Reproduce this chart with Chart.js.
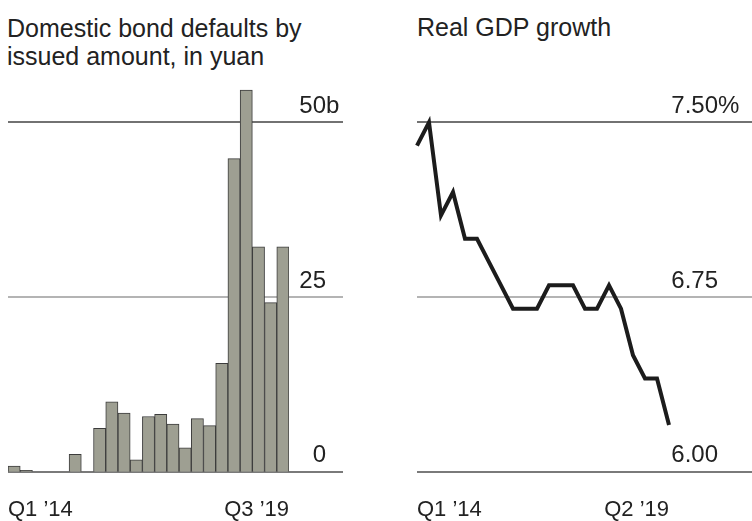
<!DOCTYPE html>
<html>
<head>
<meta charset="utf-8">
<script src="https://cdn.jsdelivr.net/npm/chart.js@4"></script>
<style>
  body { margin: 0; background: #fff; }
  #wrap { position: relative; width: 752px; height: 521px; overflow: hidden; font-family: "Liberation Sans", Arial, sans-serif; color: #222; }
  .title { position: absolute; font-size: 25px; line-height: 27.5px; white-space: nowrap; }
  canvas { position: absolute; top: 0; }
</style>
</head>
<body>
<div id="wrap">
  <div class="title" style="left:7px; top:15px;">Domestic bond defaults by<br>issued amount, in yuan</div>
  <div class="title" style="left:417px; top:14px;">Real GDP growth</div>
  <canvas id="bondChart" width="376" height="521" style="left:0px; width:376px; height:521px;"></canvas>
  <canvas id="gdpChart" width="376" height="521" style="left:376px; width:376px; height:521px;"></canvas>
</div>
<script>
// Bond defaults, quarterly Q1 '14 - Q3 '19 (billion yuan)
const bondQuarters = ["Q1 '14", "Q2 '14", "Q3 '14", "Q4 '14", "Q1 '15", "Q2 '15", "Q3 '15", "Q4 '15",
    "Q1 '16", "Q2 '16", "Q3 '16", "Q4 '16", "Q1 '17", "Q2 '17", "Q3 '17", "Q4 '17",
    "Q1 '18", "Q2 '18", "Q3 '18", "Q4 '18", "Q1 '19", "Q2 '19", "Q3 '19"];
const bondDefaults = [0.8, 0.2, 0, 0, 0, 2.5, 0, 6.2, 10.0, 8.4, 1.7, 7.9, 8.2, 6.8, 3.4, 7.6,
    6.6, 15.5, 44.8, 54.6, 32.2, 24.2, 32.2];
const bondTicks = [0, 25, 50];
const bondTickText = ['0', '25', '50'];
const bondTickSuffix = ['', '', 'b'];
const bondEnds = ['Q1 \u201914', 'Q3 \u201919'];

// Real GDP growth, Q1 '14 - Q2 '19 (%)
const gdpQuarters = ["Q1 '14", "Q2 '14", "Q3 '14", "Q4 '14", "Q1 '15", "Q2 '15", "Q3 '15", "Q4 '15",
    "Q1 '16", "Q2 '16", "Q3 '16", "Q4 '16", "Q1 '17", "Q2 '17", "Q3 '17", "Q4 '17",
    "Q1 '18", "Q2 '18", "Q3 '18", "Q4 '18", "Q1 '19", "Q2 '19"];
const gdpGrowth = [7.4, 7.5, 7.1, 7.2, 7.0, 7.0, 6.9, 6.8, 6.7, 6.7, 6.7, 6.8, 6.8, 6.8, 6.7, 6.7,
    6.8, 6.7, 6.5, 6.4, 6.4, 6.2];
const gdpTicks = [6.0, 6.75, 7.5];
const gdpTickText = ['6.00', '6.75', '7.50'];
const gdpTickSuffix = ['', '', '%'];
const gdpEnds = ['Q1 \u201914', 'Q2 \u201919'];

const lineColors = ['#7a7a7a', '#b4b4b4', '#727272'];

// draws the reference lines, tick labels above them and the end labels of the x axis
const annotate = {
    id: 'annotate',
    beforeDatasetsDraw(chart, args, opts) {
        const ctx = chart.ctx;
        const y = chart.scales.y;
        ctx.save();
        opts.ticks.forEach((v, i) => {
            const py = Math.round(y.getPixelForValue(v));
            ctx.strokeStyle = lineColors[i];
            ctx.lineWidth = 2;
            ctx.beginPath();
            ctx.moveTo(chart.chartArea.left, py);
            ctx.lineTo(opts.lineRight, py);
            ctx.stroke();
        });
        ctx.restore();
    },
    afterDatasetsDraw(chart, args, opts) {
        const ctx = chart.ctx;
        const y = chart.scales.y;
        const area = chart.chartArea;
        ctx.save();
        ctx.fillStyle = '#222';
        ctx.font = '24px "Liberation Sans", Arial, sans-serif';
        ctx.textBaseline = 'alphabetic';
        opts.ticks.forEach((v, i) => {
            const py = y.getPixelForValue(v) - 9.5;
            ctx.textAlign = 'right';
            ctx.fillText(opts.text[i], opts.numRight, py);
            ctx.textAlign = 'left';
            ctx.fillText(opts.suffix[i], opts.numRight, py);
        });
        ctx.font = '22px "Liberation Sans", Arial, sans-serif';
        ctx.textAlign = 'left';
        ctx.fillText(opts.ends[0], area.left, 516);
        ctx.textAlign = 'right';
        ctx.fillText(opts.ends[1], area.right, 516);
        ctx.restore();
    }
};

new Chart(document.getElementById('bondChart'), {
    type: 'bar',
    data: {
        labels: bondQuarters,
        datasets: [{
            data: bondDefaults,
            backgroundColor: '#9e9f92',
            borderColor: '#3c3c3c',
            borderWidth: 1,
            barPercentage: 1,
            categoryPercentage: 1
        }]
    },
    options: {
        responsive: false,
        animation: false,
        layout: { padding: { left: 8, right: 87, top: 87.4, bottom: 49.3 } },
        plugins: {
            legend: { display: false },
            tooltip: { enabled: false },
            annotate: { ticks: bondTicks, text: bondTickText, suffix: bondTickSuffix, ends: bondEnds, lineRight: 343, numRight: 326 }
        },
        scales: {
            x: { display: false },
            y: { display: false, min: 0, max: 55 }
        }
    },
    plugins: [annotate]
});

new Chart(document.getElementById('gdpChart'), {
    type: 'line',
    data: {
        labels: gdpQuarters,
        datasets: [{
            data: gdpGrowth,
            borderColor: '#1c1c1c',
            borderWidth: 4,
            pointRadius: 0,
            tension: 0,
            borderJoinStyle: 'miter',
            borderCapStyle: 'butt',
            clip: false
        }]
    },
    options: {
        responsive: false,
        animation: false,
        layout: { padding: { left: 41, right: 83, top: 122.3, bottom: 49.3 } },
        plugins: {
            legend: { display: false },
            tooltip: { enabled: false },
            annotate: { ticks: gdpTicks, text: gdpTickText, suffix: gdpTickSuffix, ends: gdpEnds, lineRight: 376, numRight: 342 }
        },
        scales: {
            x: { display: false },
            y: { display: false, min: 6.0, max: 7.5 }
        }
    },
    plugins: [annotate]
});
</script>
</body>
</html>
